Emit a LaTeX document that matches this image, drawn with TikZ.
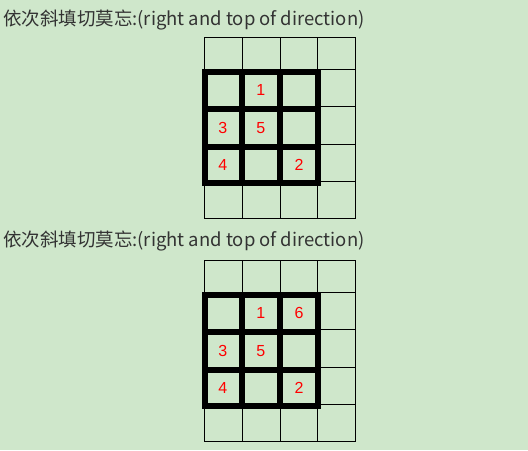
\documentclass[tikz,border=0pt]{standalone}
\usepackage{fontspec}
\newfontfamily\cjk{Noto Sans CJK SC}
\newfontfamily\digitfont{Liberation Sans}
\definecolor{bg}{RGB}{207,231,203}
\definecolor{txt}{RGB}{51,51,51}

\begin{document}
\begin{tikzpicture}[x=0.75pt,y=-0.75pt,
  cell/.style={line width=0.75pt},
  box/.style={line width=4.5pt},
  num/.style={text=red,font=\digitfont\fontsize{12}{12}\selectfont,inner sep=0pt},
  title/.style={text=txt,font=\cjk\fontsize{13.85}{15}\selectfont,anchor=base west,inner sep=0pt}]
\fill[bg] (0,0) rectangle (528,450);
\useasboundingbox (0,0) rectangle (528,450);
\begin{scope}
  \node[title] (title1) at (3,25) {依次斜填切莫忘:(right and top of direction)};
  \draw[cell] (204.3,37.3) rectangle (355.7,218.3);
  \draw[cell] (242.3,37.3) -- (242.3,218.3);
  \draw[cell] (280.3,37.3) -- (280.3,218.3);
  \draw[cell] (317.7,37.3) -- (317.7,218.3);
  \draw[cell] (204.3,69.3) -- (355.7,69.3);
  \draw[cell] (204.3,106.7) -- (355.7,106.7);
  \draw[cell] (204.3,144.3) -- (355.7,144.3);
  \draw[cell] (204.3,181.7) -- (355.7,181.7);
  \draw[box] (205,72) rectangle (318,183);
  \draw[box] (242,72) -- (242,183);
  \draw[box] (280,72) -- (280,183);
  \draw[box] (205,109) -- (318,109);
  \draw[box] (205,147) -- (318,147);
  \node[num] (one1) at (260.7,90) {1};
  \node[num] (three1) at (222.7,127.7) {3};
  \node[num] (five1) at (260.7,127.7) {5};
  \node[num] (four1) at (222.7,165) {4};
  \node[num] (two1) at (299,165) {2};
\end{scope}
\begin{scope}[shift={(0,223)}]
  \node[title] (title2) at (3,23) {依次斜填切莫忘:(right and top of direction)};
  \draw[cell] (204.3,37.3) rectangle (355.7,218.3);
  \draw[cell] (242.3,37.3) -- (242.3,218.3);
  \draw[cell] (280.3,37.3) -- (280.3,218.3);
  \draw[cell] (317.7,37.3) -- (317.7,218.3);
  \draw[cell] (204.3,69.3) -- (355.7,69.3);
  \draw[cell] (204.3,106.7) -- (355.7,106.7);
  \draw[cell] (204.3,144.3) -- (355.7,144.3);
  \draw[cell] (204.3,181.7) -- (355.7,181.7);
  \draw[box] (205,72) rectangle (318,183);
  \draw[box] (242,72) -- (242,183);
  \draw[box] (280,72) -- (280,183);
  \draw[box] (205,109) -- (318,109);
  \draw[box] (205,147) -- (318,147);
  \node[num] (one2) at (260.7,90) {1};
  \node[num] (six2) at (299,90) {6};
  \node[num] (three2) at (222.7,127.7) {3};
  \node[num] (five2) at (260.7,127.7) {5};
  \node[num] (four2) at (222.7,165) {4};
  \node[num] (two2) at (299,165) {2};
\end{scope}
\end{tikzpicture}
\end{document}
